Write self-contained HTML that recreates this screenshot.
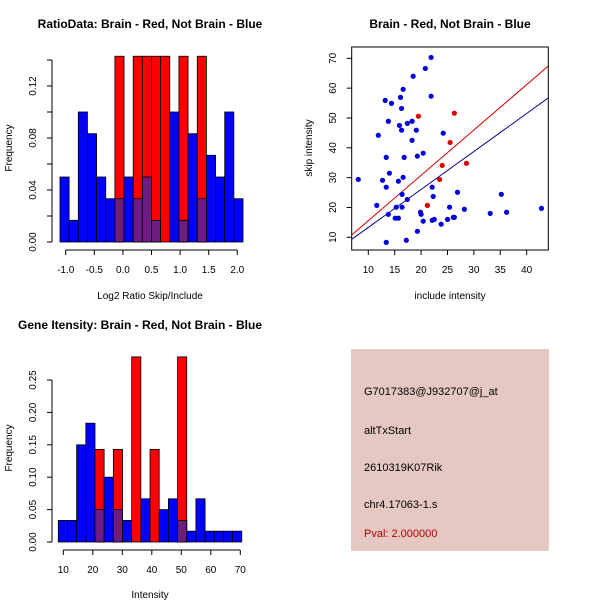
<!DOCTYPE html>
<html><head><meta charset="utf-8"><style>
html,body{margin:0;padding:0;background:#fff}
svg{display:block;font-family:"Liberation Sans",sans-serif}
</style></head><body>
<svg id="c" width="600" height="600" viewBox="0 0 600 600">
<rect width="600" height="600" fill="#fff"/>
<text x="150" y="28" font-size="12" font-weight="bold" text-anchor="middle">RatioData: Brain - Red, Not Brain - Blue</text>
<text x="450" y="28" font-size="12" font-weight="bold" text-anchor="middle">Brain - Red, Not Brain - Blue</text>
<text x="140" y="329" font-size="12" font-weight="bold" text-anchor="middle">Gene Itensity: Brain - Red, Not Brain - Blue</text>
<text x="150" y="299" font-size="10" text-anchor="middle">Log2 Ratio Skip/Include</text>
<text transform="translate(12,148) rotate(-90)" font-size="10" text-anchor="middle">Frequency</text>
<text x="450" y="299" font-size="10" text-anchor="middle">include intensity</text>
<text transform="translate(312,148) rotate(-90)" font-size="10" text-anchor="middle">skip intensity</text>
<text x="150" y="598" font-size="10" text-anchor="middle">Intensity</text>
<text transform="translate(12,448) rotate(-90)" font-size="10" text-anchor="middle">Frequency</text>
<g id="g1"></g>
<g id="g2"></g>
<g id="g3"></g>
<g>
<rect x="351" y="349" width="198" height="202" fill="#e6c8c2"/>
<text x="364" y="395" font-size="11">G7017383@J932707@j_at</text>
<text x="364" y="434" font-size="11">altTxStart</text>
<text x="364" y="471" font-size="11">2610319K07Rik</text>
<text x="364" y="508" font-size="11">chr4.17063-1.s</text>
<text x="364" y="537" font-size="11" fill="#b00000">Pval: 2.000000</text>
</g>
</svg>
<script>
// Ratio histogram data
const ratioBlue = [0.05,0.0167,0.1,0.0833,0.05,0.0333,0.0333,0.05,0.0333,0.05,0.0167,0,0.1,0.0167,0.0833,0.0333,0.0667,0.05,0.1,0.0333];
const ratioRed  = [0,0,0,0,0,0,0.1429,0,0.1429,0.1429,0.1429,0.1429,0,0.1429,0,0.1429,0,0,0,0];
const ratioBinStart = -1.1;
const ratioBinWidth = 0.16;
const ratioXTicks = ["-1.0","-0.5","0.0","0.5","1.0","1.5","2.0"];
const ratioYTicks = [0,0.02,0.04,0.06,0.08,0.10,0.12,0.14];
const ratioYLabels = ["0.00","","0.04","","0.08","","0.12",""];
// Intensity histogram data
const intBlue = [0.0333,0.0333,0.15,0.1833,0.05,0.1,0.05,0.0333,0,0.0667,0,0.05,0.0667,0.0333,0.0167,0.0667,0.0167,0.0167,0.0167,0.0167];
const intRed  = [0,0,0,0,0.1429,0,0.1429,0,0.2857,0,0.1429,0,0,0.2857,0,0,0,0,0,0];
const intBinStart = 8.3;
const intBinWidth = 3.11;
const intXTicks = ["10","20","30","40","50","60","70"];
const intYTicks = ["0.00","0.05","0.10","0.15","0.20","0.25"];
// Scatter data
const blueX = [8.1,11.6,11.9,12.7,13.2,13.4,13.4,13.4,13.8,13.8,14.0,14.4,15.3,15.1,15.7,15.7,15.9,16.1,16.3,16.3,16.4,16.4,16.6,16.6,16.8,17.2,17.4,17.4,18.3,18.3,18.5,19.1,19.3,19.3,19.9,20.0,20.4,20.4,20.8,21.9,21.9,22.1,22.3,22.1,22.5,24.2,23.8,25.4,25.0,26.1,26.3,26.9,28.2,33.1,35.2,36.2,42.8];
const blueY = [29.4,20.7,44.2,29.1,55.9,36.8,26.8,8.3,48.9,17.7,31.5,54.9,20.1,16.4,16.4,28.8,47.5,56.9,53.2,45.9,24.4,20.1,59.6,30.1,36.8,9.0,48.2,22.7,48.9,42.5,64.0,45.9,37.2,12.0,18.4,17.7,38.2,15.4,66.6,70.3,57.3,26.8,23.7,15.7,16.0,44.9,14.4,20.1,16.0,16.7,16.7,25.1,19.4,18.0,24.4,18.4,19.7];
const redX = [19.5,21.2,23.5,24.0,25.5,26.3,28.6];
const redY = [50.6,20.7,29.4,34.1,41.8,51.6,34.8];
const redFit = [0.37,1.52];
const blueFit = [0.57,1.273];
const scatXTicks = [10,15,20,25,30,35,40];
const scatYTicks = [10,20,30,40,50,60,70];

const NS="http://www.w3.org/2000/svg";
function mk(p,t,a){const e=document.createElementNS(NS,t);for(const k in a)e.setAttribute(k,a[k]);p.appendChild(e);return e;}
const PURPLE="#6e1c84";

function hist(g,blue,red,x0,bw,yMax,sx,sy,name){
  for(let i=0;i<blue.length;i++){
    const l=sx(x0+i*bw), r=sx(x0+(i+1)*bw);
    const b=blue[i], rd=red[i];
    if(b>0){const e=mk(g,'rect',{x:l,y:sy(b),width:r-l,height:sy(0)-sy(b),fill:'#0000ff',stroke:'#000','stroke-width':0.8});
      
      }
    if(rd>0){const e=mk(g,'rect',{x:l,y:sy(rd),width:r-l,height:sy(0)-sy(rd),fill:'#ff0000',stroke:'#000','stroke-width':0.8});
      
      }
    const m=Math.min(b,rd);
    if(m>0){const e=mk(g,'rect',{x:l,y:sy(m),width:r-l,height:sy(0)-sy(m),fill:PURPLE,stroke:'#000','stroke-width':0.8});
      
      }
  }
}

// Ratio histogram
{
 const g=document.getElementById('g1');
 const sx=v=>65.7+(v+1)*57.2, sy=v=>242-v*1300;
 hist(g,ratioBlue,ratioRed,ratioBinStart,ratioBinWidth,0.14,sx,sy,'ratio');
 mk(g,'line',{x1:52,x2:52,y1:sy(0),y2:sy(0.14),stroke:'#000'});
 ratioYTicks.forEach((v,i)=>{mk(g,'line',{x1:47,x2:52,y1:sy(v),y2:sy(v),stroke:'#000'});
   if(ratioYLabels[i]){const t=mk(g,'text',{transform:`translate(36,${sy(v)}) rotate(-90)`,'font-size':10,'text-anchor':'middle'});t.textContent=ratioYLabels[i];
   
   }});
 mk(g,'line',{x1:sx(-1),x2:sx(2),y1:250,y2:250,stroke:'#000'});
 ratioXTicks.forEach(s=>{const v=parseFloat(s);mk(g,'line',{x1:sx(v),x2:sx(v),y1:250,y2:255,stroke:'#000'});
   const t=mk(g,'text',{x:sx(v),y:273,'font-size':10,'text-anchor':'middle'});t.textContent=s;
   
   });
}
// Intensity histogram
{
 const g=document.getElementById('g3');
 const sx=v=>63.3+(v-10)*2.95, sy=v=>542-v*648;
 hist(g,intBlue,intRed,intBinStart,intBinWidth,0.29,sx,sy,'intensity');
 mk(g,'line',{x1:52,x2:52,y1:sy(0),y2:sy(0.25),stroke:'#000'});
 intYTicks.forEach(s=>{const v=parseFloat(s);mk(g,'line',{x1:47,x2:52,y1:sy(v),y2:sy(v),stroke:'#000'});
   const t=mk(g,'text',{transform:`translate(36,${sy(v)}) rotate(-90)`,'font-size':10,'text-anchor':'middle'});t.textContent=s;
   
   });
 mk(g,'line',{x1:sx(10),x2:sx(70),y1:550,y2:550,stroke:'#000'});
 intXTicks.forEach(s=>{const v=parseFloat(s);mk(g,'line',{x1:sx(v),x2:sx(v),y1:550,y2:555,stroke:'#000'});
   const t=mk(g,'text',{x:sx(v),y:573,'font-size':10,'text-anchor':'middle'});t.textContent=s;
   
   });
}
// Scatter
{
 const g=document.getElementById('g2');
 const L=351.7,R=548.3,T=47,B=250;
 const sx=v=>368.3+(v-10)*5.278, sy=v=>237.3-(v-10)*2.983;
 const cp=mk(g,'clipPath',{id:'clp'});mk(cp,'rect',{x:L,y:T,width:R-L,height:B-T});
 const xa=sx.call?null:null;
 const xmin=(L-368.3)/5.278+10, xmax=(R-368.3)/5.278+10;
 const rl=mk(g,'line',{x1:sx(xmin),y1:sy(redFit[0]+redFit[1]*xmin),x2:sx(xmax),y2:sy(redFit[0]+redFit[1]*xmax),stroke:'#d00000','clip-path':'url(#clp)'});
 
 
 const bl=mk(g,'line',{x1:sx(xmin),y1:sy(blueFit[0]+blueFit[1]*xmin),x2:sx(xmax),y2:sy(blueFit[0]+blueFit[1]*xmax),stroke:'#00008b','clip-path':'url(#clp)'});
 
 
 blueX.forEach((x,i)=>{const c=mk(g,'circle',{cx:sx(x),cy:sy(blueY[i]),r:2.6,fill:'#0000dd'});
   
   });
 redX.forEach((x,i)=>{const c=mk(g,'circle',{cx:sx(x),cy:sy(redY[i]),r:2.6,fill:'#dd0000'});
   
   });
 mk(g,'rect',{x:L,y:T,width:R-L,height:B-T,fill:'none',stroke:'#000'});
 scatXTicks.forEach(v=>{mk(g,'line',{x1:sx(v),x2:sx(v),y1:B,y2:B+5,stroke:'#000'});
   const t=mk(g,'text',{x:sx(v),y:273,'font-size':10,'text-anchor':'middle'});t.textContent=v;
   
   });
 scatYTicks.forEach(v=>{mk(g,'line',{x1:L-5,x2:L,y1:sy(v),y2:sy(v),stroke:'#000'});
   const t=mk(g,'text',{transform:`translate(336,${sy(v)}) rotate(-90)`,'font-size':10,'text-anchor':'middle'});t.textContent=v;
   
   });
}
</script>
</body></html>
